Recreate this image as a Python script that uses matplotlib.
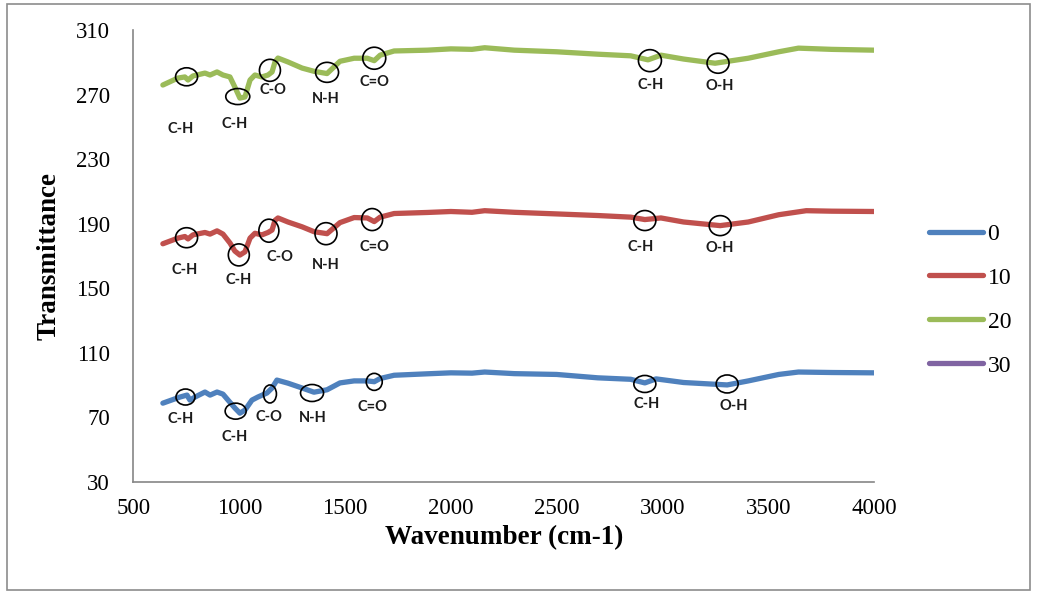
import matplotlib
matplotlib.use("Agg")
import matplotlib.pyplot as plt
from matplotlib.patches import Ellipse, Rectangle

# FTIR spectra (wavenumber cm-1, transmittance)
wn_0 = [639, 720, 753, 767, 791, 838, 862, 895, 923, 947, 980, 1003, 1027, 1060, 1088,
        1131, 1155, 1178, 1230, 1297, 1353, 1415, 1476, 1543, 1605, 1638, 1666, 1732, 1889,
        2000, 2100, 2160, 2300, 2500, 2695, 2850, 2917, 2970, 3100, 3306, 3406, 3550, 3643,
        3800, 4000]
t_0 = [78.7, 82.5, 83.7, 80.6, 82.5, 85.6, 83.7, 85.6, 84.3, 80.6, 75.6, 72.5, 74.4, 80.6, 82.5,
       85, 88.1, 93, 91.1, 88.1, 85.5, 87, 91.25, 92.5, 92.5, 92, 94, 96, 96.9,
       97.5, 97.3, 98, 97, 96.5, 94.4, 93.5, 91.25, 93.75, 91.5, 90, 92.5, 96.5, 98,
       97.7, 97.5]

wn_10 = [639, 710, 743, 758, 781, 838, 862, 895, 923, 956, 979, 1003, 1027, 1051, 1074,
         1107, 1136, 1155, 1169, 1183, 1230, 1297, 1353, 1415, 1476, 1543, 1605, 1638, 1666,
         1732, 1889, 2000, 2100, 2160, 2300, 2500, 2695, 2850, 2917, 2993, 3100, 3273, 3406,
         3550, 3680, 3800, 4000]
t_10 = [177.5, 181, 182, 180.5, 183, 184.5, 183.5, 185.5, 183.5, 178, 173, 170.5, 172.5, 181, 184,
        183, 184.5, 186, 192, 193.5, 191, 188, 185, 183.75, 190.6, 193.75, 193.5, 191.25, 194,
        196.25, 196.9, 197.5, 197, 198, 197, 196, 195, 194, 192.5, 193.5, 191, 188.75, 191,
        195.5, 198, 197.7, 197.5]

wn_20 = [639, 710, 743, 758, 781, 838, 862, 895, 923, 956, 979, 1003, 1027, 1051, 1074,
         1107, 1136, 1155, 1169, 1183, 1230, 1297, 1353, 1415, 1476, 1543, 1605, 1638, 1666,
         1732, 1889, 2000, 2100, 2160, 2300, 2500, 2695, 2850, 2932, 2993, 3100, 3249, 3406,
         3550, 3643, 3800, 4000]
t_20 = [275.9, 280.2, 280.9, 279, 281.5, 283.3, 282.1, 284, 282.1, 280.9, 274.7, 267.8, 268.5, 279, 282.1,
        280.9, 282.1, 284, 290.2, 292.6, 290.2, 286.4, 284.4, 283, 290.6, 292.5, 292.5, 291, 294.4,
        297, 297.5, 298.3, 298, 299, 297.5, 296.5, 295, 294, 291.5, 294.4, 292, 289.4, 292.5,
        296.5, 298.75, 298, 297.5]

# peak markers: circle centre, label, label position, circle size (px w, h)
peaks = {
    "0": dict(x=[746, 983, 1145, 1344, 1638, 2917, 3306],
              y=[82.5, 73.75, 84.4, 85, 91.9, 90.6, 90.6],
              lab=["C-H", "C-H", "C-O", "N-H", "C=O", "C-H", "O-H"],
              lx=[723, 979, 1140, 1348, 1628, 2927, 3335],
              ly=[68.75, 57.5, 70, 69.4, 76.25, 78, 77],
              w=[19, 21, 13, 23, 16, 22, 22], h=[16, 16, 18, 17, 17, 17, 18]),
    "10": dict(x=[751, 998, 1140, 1410, 1628, 2917, 3273],
               y=[181.25, 170.6, 185.6, 183.75, 192.5, 191.9, 188.75],
               lab=["C-H", "C-H", "C-O", "N-H", "C=O", "C-H", "O-H"],
               lx=[742, 998, 1192, 1410, 1638, 2898, 3273],
               ly=[161, 155, 169.4, 164.4, 175.6, 175.6, 175],
               w=[22, 21, 20, 22, 21, 22, 22], h=[20, 22, 23, 22, 22, 20, 20]),
    "20": dict(x=[751, 993, 1145, 1415, 1638, 2941, 3263],
               y=[281, 268.75, 285, 283.75, 292.5, 291, 289.4],
               lab=["C-H", "C-H", "C-O", "N-H", "C=O", "C-H", "O-H"],
               lx=[723, 979, 1159, 1410, 1638, 2946, 3273],
               ly=[248.75, 251.9, 272.5, 267, 278, 275.6, 275],
               w=[22, 24, 21, 23, 23, 23, 22], h=[18, 16, 22, 20, 22, 22, 20]),
}

colors = {"0": "#4F81BD", "10": "#C0504D", "20": "#9BBB59", "30": "#8064A2"}

plt.rcParams['font.family'] = ['Liberation Serif', 'DejaVu Serif']

fig = plt.figure(figsize=(10.37, 5.94), dpi=100)
ax = fig.add_axes([0.1287, 0.189, 0.8428 - 0.1287, 0.9495 - 0.189])

ax.plot(wn_0, t_0, color=colors["0"], lw=3.8, label="0", solid_capstyle="round")
ax.plot(wn_10, t_10, color=colors["10"], lw=3.8, label="10", solid_capstyle="round")
ax.plot(wn_20, t_20, color=colors["20"], lw=3.8, label="20", solid_capstyle="round")
ax.plot([], [], color=colors["30"], lw=3.8, label="30", solid_capstyle="round")

ax.set_xlim(500, 4000)
ax.set_ylim(30, 310)
ax.set_xticks(range(500, 4001, 500))
ax.set_yticks(range(30, 311, 40))

# pixel -> data unit conversion for the circles
bbox = ax.get_position()
px_x = 3500 / (bbox.width * 1037)
px_y = 280 / (bbox.height * 594)

for key, p in peaks.items():
    for i in range(len(p["x"])):
        ax.add_patch(Ellipse((p["x"][i], p["y"][i]), p["w"][i] * px_x, p["h"][i] * px_y,
                             fill=False, ec="black", lw=1.2, zorder=5))
        ax.text(p["lx"][i], p["ly"][i], p["lab"][i], ha="center", va="center",
                fontsize=10.5, fontweight="bold", family=["Lato", "DejaVu Sans"], color="#1a1a1a")

for s in ["top", "right"]:
    ax.spines[s].set_visible(False)
for s in ["left", "bottom"]:
    ax.spines[s].set_color("#868686")
    ax.spines[s].set_linewidth(1.2)
ax.tick_params(length=0, labelsize=16.5)
ax.tick_params(axis="x", pad=12)
ax.tick_params(axis="y", pad=17)

ax.set_xlabel("Wavenumber (cm-1)", fontsize=19.5, fontweight="bold", labelpad=4)
ax.set_ylabel("Transmittance", fontsize=19.5, fontweight="bold", labelpad=10)

fig.legend(loc="center left", bbox_to_anchor=(0.884, 0.495), frameon=False, fontsize=17,
           handlelength=2.3, handletextpad=0.2, labelspacing=0.95, borderpad=0)

fig.patches.append(Rectangle((0.007, 0.007), 0.986, 0.986, transform=fig.transFigure,
                             fill=False, ec="#8c8c8c", lw=1.2))

fig.savefig("out.png", dpi=100)
